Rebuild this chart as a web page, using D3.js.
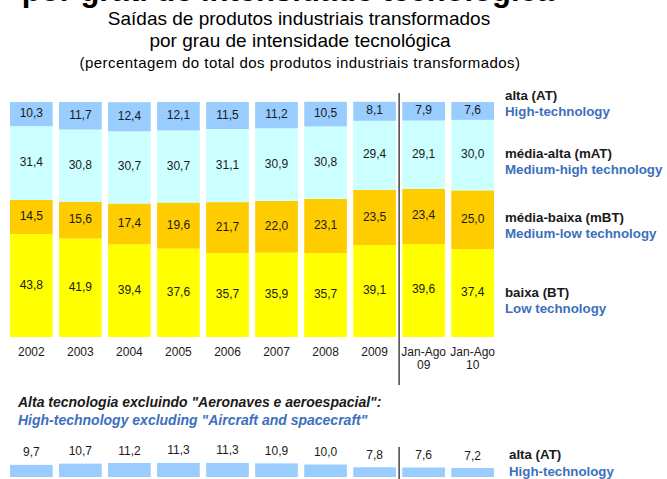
<!DOCTYPE html>
<html>
<head>
<meta charset="utf-8">
<script src="https://cdn.jsdelivr.net/npm/d3@7"></script>
<style>
  body { margin: 0; background: #fff; }
  svg { display: block; font-family: "Liberation Sans", Arial, sans-serif; }
</style>
</head>
<body>
<div id="chart"></div>
<script>
const periods = ['2002', '2003', '2004', '2005', '2006', '2007', '2008', '2009', 'Jan-Ago 09', 'Jan-Ago 10'];
const baixa = [43.8, 41.9, 39.4, 37.6, 35.7, 35.9, 35.7, 39.1, 39.6, 37.4];
const mediaBaixa = [14.5, 15.6, 17.4, 19.6, 21.7, 22.0, 23.1, 23.5, 23.4, 25.0];
const mediaAlta = [31.4, 30.8, 30.7, 30.7, 31.1, 30.9, 30.8, 29.4, 29.1, 30.0];
const alta = [10.3, 11.7, 12.4, 12.1, 11.5, 11.2, 10.5, 8.1, 7.9, 7.6];
const altaExclAero = [9.7, 10.7, 11.2, 11.3, 11.3, 10.9, 10.0, 7.8, 7.6, 7.2];

const seriesKeys = ['baixa', 'mediaBaixa', 'mediaAlta', 'alta'];
const colors = { baixa: '#ffff00', mediaBaixa: '#ffcc00', mediaAlta: '#ccffff', alta: '#99ccff' };
const legend = [
  { pt: 'alta (AT)', en: 'High-technology', y: 95 },
  { pt: 'média-alta (mAT)', en: 'Medium-high technology', y: 153 },
  { pt: 'média-baixa (mBT)', en: 'Medium-low technology', y: 217 },
  { pt: 'baixa (BT)', en: 'Low technology', y: 292 }
];

const W = 667, H = 479;
const blueText = '#3c6fbd';
const fmt = v => d3.format('.1f')(v).replace('.', ',');

const rows = periods.map((p, i) => ({
  period: p, baixa: baixa[i], mediaBaixa: mediaBaixa[i], mediaAlta: mediaAlta[i], alta: alta[i]
}));

const svg = d3.select('#chart').append('svg')
  .attr('width', W)
  .attr('height', H);

// titles
svg.append('text')
  .attr('x', 288).attr('y', 1)
  .attr('text-anchor', 'middle')
  .attr('font-size', 31).attr('font-weight', 'bold')
  .text('por grau de intensidade tecnológica');

svg.append('text')
  .attr('x', 299).attr('y', 25)
  .attr('text-anchor', 'middle').attr('font-size', 19)
  .text('Saídas de produtos industriais transformados');

svg.append('text')
  .attr('x', 300).attr('y', 47)
  .attr('text-anchor', 'middle').attr('font-size', 19)
  .text('por grau de intensidade tecnológica');

svg.append('text')
  .attr('x', 300).attr('y', 68)
  .attr('text-anchor', 'middle').attr('font-size', 15)
  .attr('letter-spacing', 0.45)
  .text('(percentagem do total dos produtos industriais transformados)');

// scales
const x = d3.scaleBand()
  .domain(periods)
  .range([10, 494])
  .paddingInner(0.13)
  .paddingOuter(0);

const y = d3.scaleLinear()
  .domain([0, 100])
  .range([337, 102]);

const stacked = d3.stack().keys(seriesKeys)(rows);

const layers = svg.append('g').selectAll('g')
  .data(stacked)
  .join('g')
    .attr('fill', d => colors[d.key]);

layers.selectAll('rect')
  .data(d => d)
  .join('rect')
    .attr('x', d => x(d.data.period))
    .attr('y', d => y(d[1]))
    .attr('width', x.bandwidth())
    .attr('height', d => y(d[0]) - y(d[1]));

layers.selectAll('text')
  .data(d => d.map(s => ({ s, key: d.key })))
  .join('text')
    .attr('x', d => x(d.s.data.period) + x.bandwidth() / 2)
    .attr('y', d => (y(d.s[0]) + y(d.s[1])) / 2 + 3)
    .attr('text-anchor', 'middle')
    .attr('font-size', 12)
    .attr('fill', '#1a1a1a')
    .text(d => fmt(d.s.data[d.key]));

// x axis labels
const xAxis = svg.append('g')
  .attr('transform', 'translate(0,337)')
  .call(d3.axisBottom(x).tickSize(0).tickPadding(10.5));
xAxis.select('.domain').remove();
xAxis.selectAll('text')
  .attr('font-size', 12)
  .attr('font-family', '"Liberation Sans", Arial, sans-serif')
  .attr('fill', '#1a1a1a')
  .each(function (d) {
    const parts = d.split(' ');
    const t = d3.select(this).text(null);
    parts.forEach((p, i) => {
      t.append('tspan').attr('x', 0).attr('dy', i === 0 ? '0.71em' : '1.1em').text(p);
    });
  });

// separator between full years and Jan-Ago
const sepX = x('2009') + x.bandwidth() + (x.step() - x.bandwidth()) / 2;
svg.append('line')
  .attr('x1', sepX).attr('x2', sepX)
  .attr('y1', 93).attr('y2', 385)
  .attr('stroke', '#444').attr('stroke-width', 1.5);

// legend
const lg = svg.append('g').attr('font-size', 13.3).attr('font-weight', 'bold');
legend.forEach(l => {
  lg.append('text').attr('x', 505).attr('y', l.y + 4.5).attr('fill', '#1a1a1a').text(l.pt);
  lg.append('text').attr('x', 505).attr('y', l.y + 21).attr('fill', blueText).text(l.en);
});

// lower panel: high technology excluding aircraft
svg.append('text')
  .attr('x', 18).attr('y', 407)
  .attr('font-size', 14).attr('font-weight', 'bold').attr('font-style', 'italic')
  .attr('fill', '#1a1a1a')
  .text('Alta tecnologia excluindo "Aeronaves e aeroespacial":');

svg.append('text')
  .attr('x', 18).attr('y', 425)
  .attr('font-size', 14).attr('font-weight', 'bold').attr('font-style', 'italic')
  .attr('fill', blueText)
  .text('High-technology excluding "Aircraft and spacecraft"');

const y2 = d3.scaleLinear()
  .domain([0, 12])
  .range([477, 462]);

svg.append('g').selectAll('rect')
  .data(altaExclAero)
  .join('rect')
    .attr('x', (d, i) => x(periods[i]))
    .attr('y', d => y2(d))
    .attr('width', x.bandwidth())
    .attr('height', d => y2(0) - y2(d))
    .attr('fill', colors.alta);

svg.append('g').selectAll('text')
  .data(altaExclAero)
  .join('text')
    .attr('x', (d, i) => x(periods[i]) + x.bandwidth() / 2)
    .attr('y', d => y2(d) - 8.5)
    .attr('text-anchor', 'middle')
    .attr('font-size', 12)
    .attr('fill', '#1a1a1a')
    .text(d => fmt(d));

svg.append('line')
  .attr('x1', sepX).attr('x2', sepX)
  .attr('y1', 447).attr('y2', 479)
  .attr('stroke', '#444').attr('stroke-width', 1.5);

svg.append('text')
  .attr('x', 509).attr('y', 458.5)
  .attr('font-size', 13.3).attr('font-weight', 'bold').attr('fill', '#1a1a1a')
  .text('alta (AT)');
svg.append('text')
  .attr('x', 509).attr('y', 476)
  .attr('font-size', 13.3).attr('font-weight', 'bold').attr('fill', blueText)
  .text('High-technology');
</script>
</body>
</html>
